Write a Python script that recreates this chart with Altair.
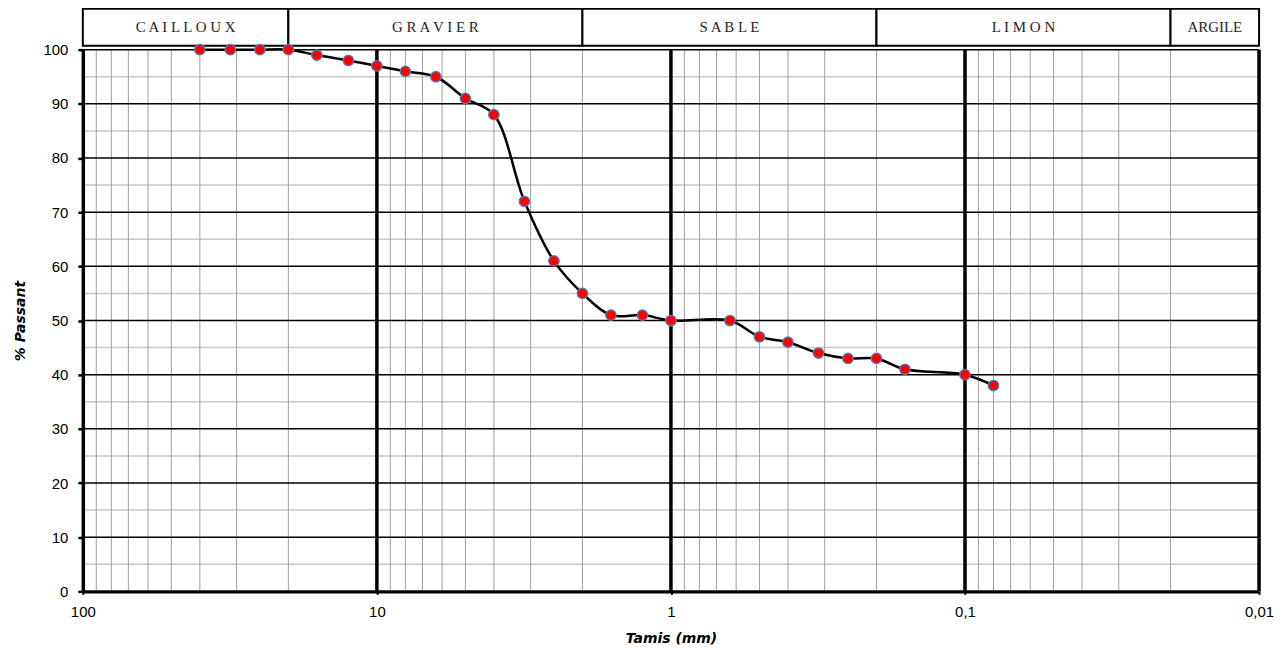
import altair as alt
import pandas as pd

# ---- data ----
sieve_mm = [40, 31.5, 25, 20, 16, 12.5, 10, 8, 6.3, 5, 4, 3.15, 2.5, 2, 1.6, 1.25,
            1, 0.63, 0.5, 0.4, 0.315, 0.25, 0.2, 0.16, 0.1, 0.08]
passing = [100, 100, 100, 100, 99, 98, 97, 96, 95, 91, 88, 72, 61, 55, 51, 51,
           50, 50, 47, 46, 44, 43, 43, 41, 40, 38]

x_tick_values = [100, 10, 1, 0.1, 0.01]
y_tick_values = [0, 10, 20, 30, 40, 50, 60, 70, 80, 90, 100]

minor_x = [90, 80, 70, 60, 50, 40, 30, 20,
           9, 8, 7, 6, 5, 4, 3, 2,
           0.9, 0.8, 0.7, 0.6, 0.5, 0.4, 0.3, 0.2,
           0.09, 0.08, 0.07, 0.06, 0.05, 0.04, 0.03, 0.02]
major_x = [10, 1, 0.1, 0.01]
major_y = [10, 20, 30, 40, 50, 60, 70, 80, 90, 100]
minor_y = [5, 15, 25, 35, 45, 55, 65, 75, 85, 95]

class_names = ["C A I L L O U X", "G R A V I E R", "S A B L E", "L I M O N", "ARGILE"]
class_from = [100, 20, 2, 0.2, 0.02]
class_to = [20, 2, 0.2, 0.02, 0.01]

# ---- tables ----
curve = pd.DataFrame({"d": sieve_mm, "p": passing})
classes = pd.DataFrame({"name": class_names, "a": class_from, "b": class_to})
classes["mid"] = (classes["a"] * classes["b"]) ** 0.5

xs = alt.Scale(type="log", domain=[0.01, 100], reverse=True, nice=False)
ys = alt.Scale(domain=[0, 100], nice=False)

x_axis = alt.Axis(
    values=x_tick_values, format="~g", labelExpr="replace(datum.label, '.', ',')",
    grid=False, domainColor="black", domainWidth=3.5, tickColor="black", tickSize=3,
    tickWidth=2, labelFont="Liberation Sans", labelFontSize=15, labelColor="black",
    labelPadding=10, labelFlush=False, labelOverlap=False, zindex=1,
    title="Tamis (mm)", titleFont="DejaVu Sans", titleFontSize=14, titleFontStyle="italic",
    titleFontWeight="bold", titleColor="black", titlePadding=12,
)
y_axis = alt.Axis(
    values=y_tick_values, grid=False, domainColor="black", domainWidth=3.5,
    tickColor="black", tickSize=5, tickWidth=2.5, labelFont="Liberation Sans",
    labelFontSize=15, labelColor="black", labelPadding=10, labelOverlap=False,
    labelFlush=False, zindex=1,
    title="% Passant", titleFont="DejaVu Sans", titleFontSize=14, titleFontStyle="italic",
    titleFontWeight="bold", titleColor="black", titlePadding=15,
)

def vrules(vals, color, width):
    return alt.Chart(pd.DataFrame({"v": vals})).mark_rule(
        color=color, strokeWidth=width).encode(x=alt.X("v:Q", scale=xs, axis=x_axis))

def hrules(vals, color, width):
    return alt.Chart(pd.DataFrame({"v": vals})).mark_rule(
        color=color, strokeWidth=width).encode(y=alt.Y("v:Q", scale=ys, axis=y_axis))

grid_minor_y = hrules(minor_y, "#c8c8c8", 1.5)
grid_minor_x = vrules(minor_x, "#a0a0a0", 1)
grid_major_y = hrules(major_y, "black", 1.5)
grid_major_x = vrules(major_x, "black", 3.5)

boxes = alt.Chart(classes).mark_rect(fill="white", stroke="black", strokeWidth=2).encode(
    x=alt.X("a:Q", scale=xs, axis=x_axis),
    x2="b:Q",
    y=alt.value(-41),
    y2=alt.value(-4),
)
box_text = alt.Chart(classes).mark_text(
    font="Liberation Serif", fontSize=15, color="#262626", baseline="middle", align="center"
).encode(
    x=alt.X("mid:Q", scale=xs, axis=x_axis),
    y=alt.value(-23),
    text="name:N",
)

line = alt.Chart(curve).mark_line(color="black", strokeWidth=2.5, interpolate="catmull-rom").encode(
    x=alt.X("d:Q", scale=xs, axis=x_axis),
    y=alt.Y("p:Q", scale=ys, axis=y_axis),
)

points = alt.Chart(curve).mark_circle(
    size=110, color="#ff0000", stroke="#4f81bd", strokeWidth=1.3, opacity=1
).encode(
    x=alt.X("d:Q", scale=xs, axis=x_axis),
    y=alt.Y("p:Q", scale=ys, axis=y_axis),
)

chart = alt.layer(
    grid_minor_y, grid_minor_x, grid_major_y, grid_major_x, boxes, box_text, line, points
).properties(
    width=1179, height=543,
    autosize=alt.AutoSizeParams(type="none"),
    padding={"left": 75, "top": 41, "right": 20, "bottom": 56},
    background="white",
).configure_view(strokeWidth=0)

chart.save("out.html", embed_options={"renderer": "svg", "actions": False})
